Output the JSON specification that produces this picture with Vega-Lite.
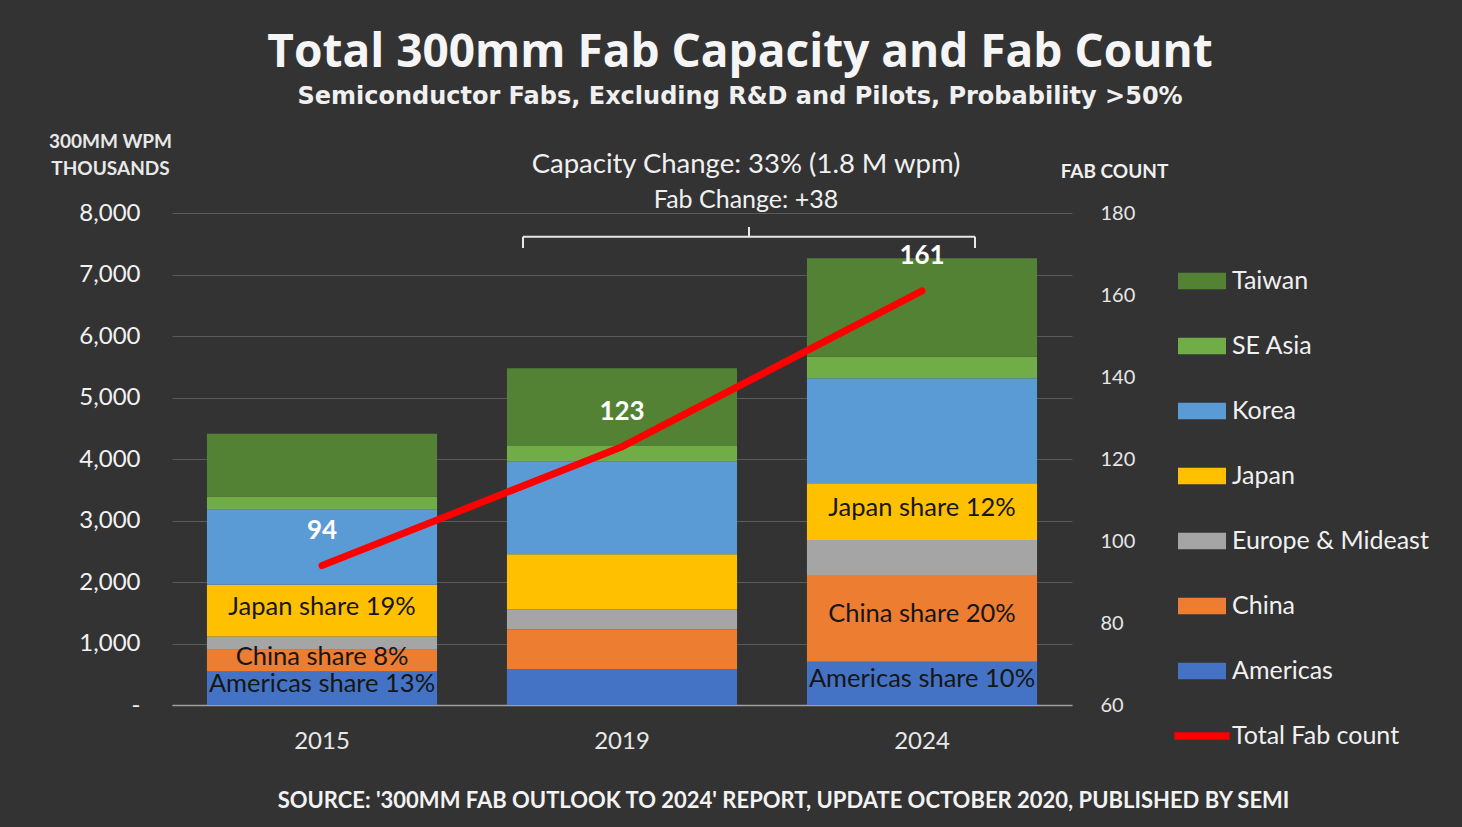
{
  "$schema": "https://vega.github.io/schema/vega-lite/v6.json",
  "autosize": {"type": "none"},
  "width": 900,
  "height": 492,
  "padding": {"left": 172, "top": 213, "right": 390, "bottom": 122},
  "background": "#333333",
  "config": {"view": {"stroke": null}, "font": "Lato"},
  "title": {
    "text": "Total 300mm Fab Capacity and Fab Count",
    "subtitle": "Semiconductor Fabs, Excluding R&D and Pilots, Probability >50%",
    "font": "Open Sans", "fontSize": 46, "fontWeight": "bold", "color": "#f5f5f5",
    "subtitleFont": "DejaVu Sans", "subtitleFontSize": 24, "subtitleFontWeight": "bold", "subtitleColor": "#f0f0f0",
    "anchor": "middle", "frame": "group", "dx": 118, "offset": 22, "subtitlePadding": 8
  },
  "datasets": {
    "capacity": [
      {"year": "2015", "region": "Americas", "rank": 1, "value": 545, "label": "Americas share 13%"},
      {"year": "2015", "region": "China", "rank": 2, "value": 353, "label": "China share 8%"},
      {"year": "2015", "region": "Europe & Mideast", "rank": 3, "value": 217, "label": null},
      {"year": "2015", "region": "Japan", "rank": 4, "value": 840, "label": "Japan share 19%"},
      {"year": "2015", "region": "Korea", "rank": 5, "value": 1220, "label": null},
      {"year": "2015", "region": "SE Asia", "rank": 6, "value": 216, "label": null},
      {"year": "2015", "region": "Taiwan", "rank": 7, "value": 1020, "label": null},
      {"year": "2019", "region": "Americas", "rank": 1, "value": 580, "label": null},
      {"year": "2019", "region": "China", "rank": 2, "value": 651, "label": null},
      {"year": "2019", "region": "Europe & Mideast", "rank": 3, "value": 325, "label": null},
      {"year": "2019", "region": "Japan", "rank": 4, "value": 894, "label": null},
      {"year": "2019", "region": "Korea", "rank": 5, "value": 1507, "label": null},
      {"year": "2019", "region": "SE Asia", "rank": 6, "value": 254, "label": null},
      {"year": "2019", "region": "Taiwan", "rank": 7, "value": 1264, "label": null},
      {"year": "2024", "region": "Americas", "rank": 1, "value": 704, "label": "Americas share 10%"},
      {"year": "2024", "region": "China", "rank": 2, "value": 1410, "label": "China share 20%"},
      {"year": "2024", "region": "Europe & Mideast", "rank": 3, "value": 569, "label": null},
      {"year": "2024", "region": "Japan", "rank": 4, "value": 922, "label": "Japan share 12%"},
      {"year": "2024", "region": "Korea", "rank": 5, "value": 1707, "label": null},
      {"year": "2024", "region": "SE Asia", "rank": 6, "value": 351, "label": null},
      {"year": "2024", "region": "Taiwan", "rank": 7, "value": 1600, "label": null}
    ],
    "fabs": [
      {"year": "2015", "fabs": 94},
      {"year": "2019", "fabs": 123},
      {"year": "2024", "fabs": 161}
    ]
  },
  "layer": [
    {
      "layer": [
        {
          "data": {"name": "capacity"},
          "transform": [
            {"stack": "value", "groupby": ["year"], "sort": [{"field": "rank", "order": "ascending"}], "as": ["v0", "v1"]}
          ],
          "mark": {"type": "bar"},
          "encoding": {
            "x": {
              "field": "year", "type": "ordinal",
              "scale": {"paddingInner": 0.233, "paddingOuter": 0.1165},
              "axis": {
                "title": "SOURCE: '300MM FAB OUTLOOK TO 2024' REPORT, UPDATE OCTOBER 2020, PUBLISHED BY SEMI",
                "labelAngle": 0, "labelFont": "Lato", "labelFontSize": 24, "labelColor": "#e8e8e8", "labelPadding": 24,
                "ticks": false, "domainColor": "#a0a0a0", "domainWidth": 1.5,
                "titleFont": "Lato", "titleFontSize": 22, "titleFontWeight": "bold", "titleColor": "#f2f2f2",
                "titleX": 611, "titleY": 102, "titleBaseline": "alphabetic", "titleAlign": "center"
              }
            },
            "y": {
              "field": "v1", "type": "quantitative",
              "scale": {"domain": [0, 8000]},
              "axis": {
                "values": [0, 1000, 2000, 3000, 4000, 5000, 6000, 7000, 8000],
                "labelExpr": "datum.value === 0 ? '-' : format(datum.value, ',')",
                "labelFont": "Lato", "labelFontSize": 24, "labelColor": "#f2f2f2", "labelPadding": 32,
                "ticks": false, "domain": false, "grid": true, "gridColor": "#5a5a5a", "gridWidth": 1.2,
                "title": ["300MM WPM", "THOUSANDS"], "titleAngle": 0, "titleAlign": "center", "titleBaseline": "alphabetic",
                "titleX": -62, "titleY": -66, "titleFont": "Lato", "titleFontSize": 19, "titleFontWeight": "bold",
                "titleColor": "#e8e8e8", "titleLineHeight": 27
              }
            },
            "y2": {"field": "v0"},
            "color": {
              "field": "region", "type": "nominal",
              "scale": {
                "domain": ["Taiwan", "SE Asia", "Korea", "Japan", "Europe & Mideast", "China", "Americas", "Total Fab count"],
                "range": ["#548235", "#70ad47", "#5b9bd5", "#ffc000", "#a5a5a5", "#ed7d31", "#4472c4", "#ff0000"]
              },
              "legend": {
                "orient": "none", "legendX": 1006, "legendY": 44, "title": null, "padding": 0,
                "labelFont": "Lato", "labelFontSize": 25, "labelColor": "#f0f0f0", "labelLimit": 400,
                "symbolSize": 2304, "rowPadding": 28, "labelOffset": 6,
                "encode": {
                  "symbols": {
                    "update": {
                      "shape": {"signal": "datum.value === 'Total Fab count' ? 'M-1.15,-0.16H1.15V0.16H-1.15Z' : 'M-1,-0.34H1V0.34H-1Z'"},
                      "fill": {"signal": "scale('color', datum.value)"},
                      "stroke": {"value": "transparent"},
                      "strokeWidth": {"value": 0},
                      "opacity": {"value": 1},
                      "fillOpacity": {"value": 1}
                    }
                  }
                }
              }
            }
          }
        },
        {
          "data": {"name": "capacity"},
          "transform": [
            {"stack": "value", "groupby": ["year"], "sort": [{"field": "rank", "order": "ascending"}], "as": ["v0", "v1"]},
            {"filter": "datum.label != null"},
            {"calculate": "(datum.v0 + datum.v1) / 2", "as": "mid"}
          ],
          "mark": {"type": "text", "font": "Lato", "fontSize": 25.5, "color": "#161616", "baseline": "middle", "align": "center", "dy": -4},
          "encoding": {
            "x": {"field": "year", "type": "ordinal"},
            "y": {"field": "mid", "type": "quantitative"},
            "text": {"field": "label"}
          }
        },
        {
          "data": {"values": [{}]},
          "mark": {"type": "rule", "color": "#e8e8e8", "strokeWidth": 2, "xOffset": -99, "x2Offset": 53},
          "encoding": {
            "x": {"datum": "2019", "type": "ordinal"},
            "x2": {"datum": "2024"},
            "y": {"datum": 7615, "type": "quantitative"}
          }
        },
        {
          "data": {"values": [{}]},
          "mark": {"type": "rule", "color": "#e8e8e8", "strokeWidth": 2, "xOffset": -99},
          "encoding": {
            "x": {"datum": "2019", "type": "ordinal"},
            "y": {"datum": 7615, "type": "quantitative"},
            "y2": {"datum": 7431}
          }
        },
        {
          "data": {"values": [{}]},
          "mark": {"type": "rule", "color": "#e8e8e8", "strokeWidth": 2, "xOffset": 53},
          "encoding": {
            "x": {"datum": "2024", "type": "ordinal"},
            "y": {"datum": 7615, "type": "quantitative"},
            "y2": {"datum": 7431}
          }
        },
        {
          "data": {"values": [{}]},
          "mark": {"type": "rule", "color": "#e8e8e8", "strokeWidth": 2, "xOffset": 127},
          "encoding": {
            "x": {"datum": "2019", "type": "ordinal"},
            "y": {"datum": 7615, "type": "quantitative"},
            "y2": {"datum": 7772}
          }
        },
        {
          "data": {"values": [{}]},
          "mark": {"type": "text", "text": "Capacity Change: 33% (1.8 M wpm)", "font": "Lato", "fontSize": 27.5, "color": "#f0f0f0", "xOffset": 124, "baseline": "middle", "align": "center"},
          "encoding": {
            "x": {"datum": "2019", "type": "ordinal"},
            "y": {"datum": 8780, "type": "quantitative"}
          }
        },
        {
          "data": {"values": [{}]},
          "mark": {"type": "text", "text": "Fab Change: +38", "font": "Lato", "fontSize": 25, "color": "#f0f0f0", "xOffset": 124, "baseline": "middle", "align": "center"},
          "encoding": {
            "x": {"datum": "2019", "type": "ordinal"},
            "y": {"datum": 8211, "type": "quantitative"}
          }
        }
      ]
    },
    {
      "data": {"name": "fabs"},
      "layer": [
        {
          "mark": {"type": "line", "strokeWidth": 7, "strokeCap": "round"},
          "encoding": {
            "x": {"field": "year", "type": "ordinal"},
            "y": {
              "field": "fabs", "type": "quantitative",
              "scale": {"domain": [60, 180]},
              "axis": {
                "orient": "right", "values": [60, 80, 100, 120, 140, 160, 180],
                "labelFont": "Lato", "labelFontSize": 20, "labelColor": "#e6e6e6", "labelPadding": 28,
                "ticks": false, "domain": false, "grid": false,
                "title": "FAB COUNT", "titleAngle": 0, "titleAlign": "center", "titleBaseline": "alphabetic",
                "titleX": 42, "titleY": -36, "titleFont": "Lato", "titleFontSize": 19, "titleFontWeight": "bold", "titleColor": "#f0f0f0"
              }
            },
            "color": {"datum": "Total Fab count", "type": "nominal"}
          }
        },
        {
          "mark": {"type": "text", "dy": -35, "font": "Lato", "fontSize": 26, "fontWeight": "bold", "color": "#ffffff", "align": "center", "baseline": "middle"},
          "encoding": {
            "x": {"field": "year", "type": "ordinal"},
            "y": {"field": "fabs", "type": "quantitative"},
            "text": {"field": "fabs"}
          }
        }
      ]
    }
  ],
  "resolve": {"scale": {"y": "independent"}}
}
